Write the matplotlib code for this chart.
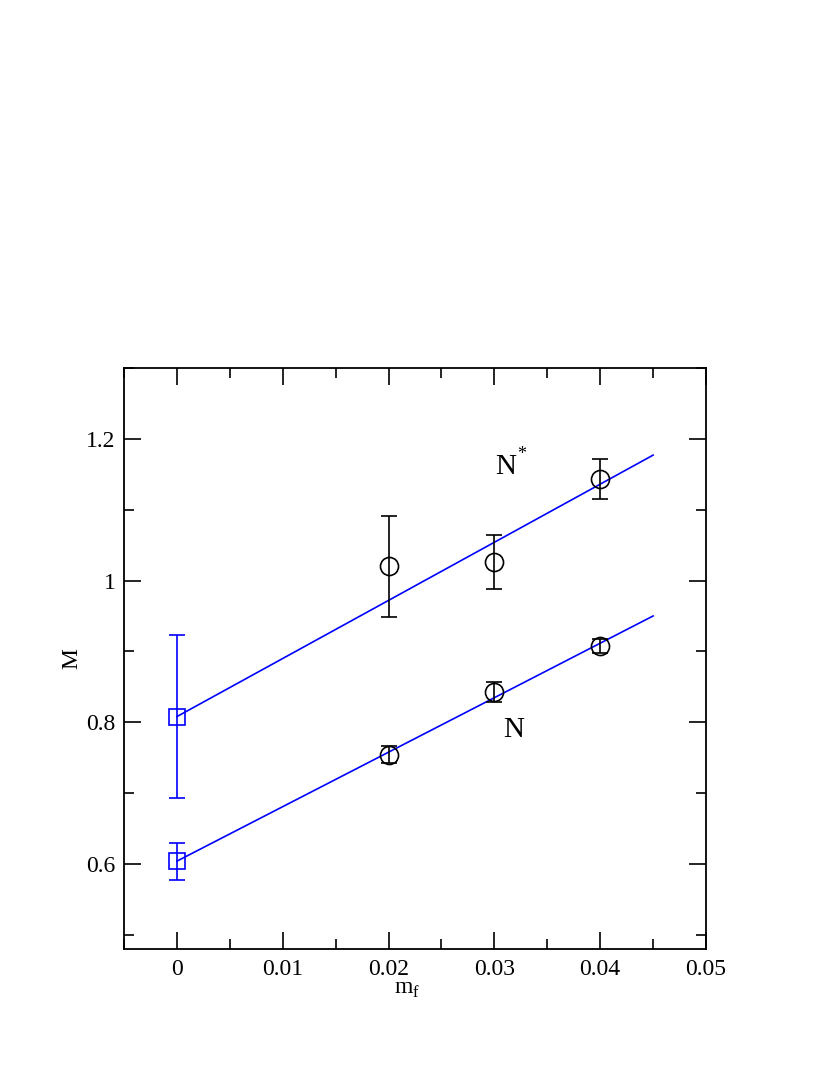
import numpy as np
import matplotlib
matplotlib.use("Agg")
import matplotlib.pyplot as plt
from matplotlib.ticker import MultipleLocator

plt.rcParams["font.family"] = ["Liberation Serif", "DejaVu Serif"]
plt.rcParams["mathtext.fontset"] = "custom"
plt.rcParams["mathtext.rm"] = "Liberation Serif"

# lattice data: nucleon (N) and its parity partner (N*)
mf = [0.02, 0.03, 0.04]
m_n = [0.754, 0.843, 0.908]
e_n = [0.012, 0.014, 0.010]
m_nstar = [1.020, 1.026, 1.143]
e_nstar = [0.071, 0.038, 0.028]

# chiral extrapolation to mf = 0
chiral_n = 0.604
chiral_n_err = 0.026
chiral_nstar = 0.808
chiral_nstar_err = 0.115

# linear fits, evaluated at endpoints
fit_x = [0.0, 0.045]
fit_n = [0.604, 0.950]
fit_nstar = [0.808, 1.177]

fig = plt.figure(figsize=(8.3, 10.75), dpi=100)
ax = fig.add_axes([0.1494, 0.1172, 0.7012, 0.5405])

ax.plot(fit_x, fit_n, color="blue", lw=1.2)
ax.plot(fit_x, fit_nstar, color="blue", lw=1.2)

for y, e in [(m_n, e_n), (m_nstar, e_nstar)]:
    ax.errorbar(mf, y, yerr=e, fmt="o", ms=13, mfc="none", mec="black",
                mew=1.2, ecolor="black", elinewidth=1.2, capsize=6, capthick=1.2)

ax.errorbar([0.0, 0.0], [chiral_n, chiral_nstar], yerr=[chiral_n_err, chiral_nstar_err],
            fmt="s", ms=11, mfc="none", mec="blue", mew=1.2, ecolor="blue",
            elinewidth=1.2, capsize=6, capthick=1.2)

ax.text(0.0311, 1.16, "N", fontsize=21, ha="center", va="center")
ax.text(0.0326, 1.178, "*", fontsize=13, ha="center", va="center")
ax.text(0.0318, 0.789, "N", fontsize=21, ha="center", va="center")

ax.set_xlim(-0.005, 0.05)
ax.set_ylim(0.48, 1.3)
ax.xaxis.set_minor_locator(MultipleLocator(0.005))
ax.yaxis.set_minor_locator(MultipleLocator(0.1))
ax.set_xticks([0, 0.01, 0.02, 0.03, 0.04, 0.05])
ax.set_xticklabels(["0", "0.01", "0.02", "0.03", "0.04", "0.05"])
ax.set_yticks([0.6, 0.8, 1.0, 1.2])
ax.set_yticklabels(["0.6", "0.8", "1", "1.2"])

ax.tick_params(which="both", direction="in", top=True, right=True, width=1.2, labelsize=17)
ax.tick_params(which="major", length=12)
ax.tick_params(axis="x", which="major", pad=7)
ax.tick_params(axis="y", which="major", pad=6)
ax.tick_params(which="minor", length=7)
for s in ax.spines.values():
    s.set_linewidth(1.3)

ax.set_xlabel(r"m$_{\mathrm{f}}$", fontsize=17)
ax.set_ylabel("M", fontsize=17)
ax.xaxis.set_label_coords((407 - 124) / 582, -(989 - 949) / 581)
ax.yaxis.set_label_coords(-(124 - 72) / 582, (949 - 659) / 581)
ax.xaxis.label.set_va("center")
ax.yaxis.label.set_va("center")

fig.savefig("out.png", dpi=100)
